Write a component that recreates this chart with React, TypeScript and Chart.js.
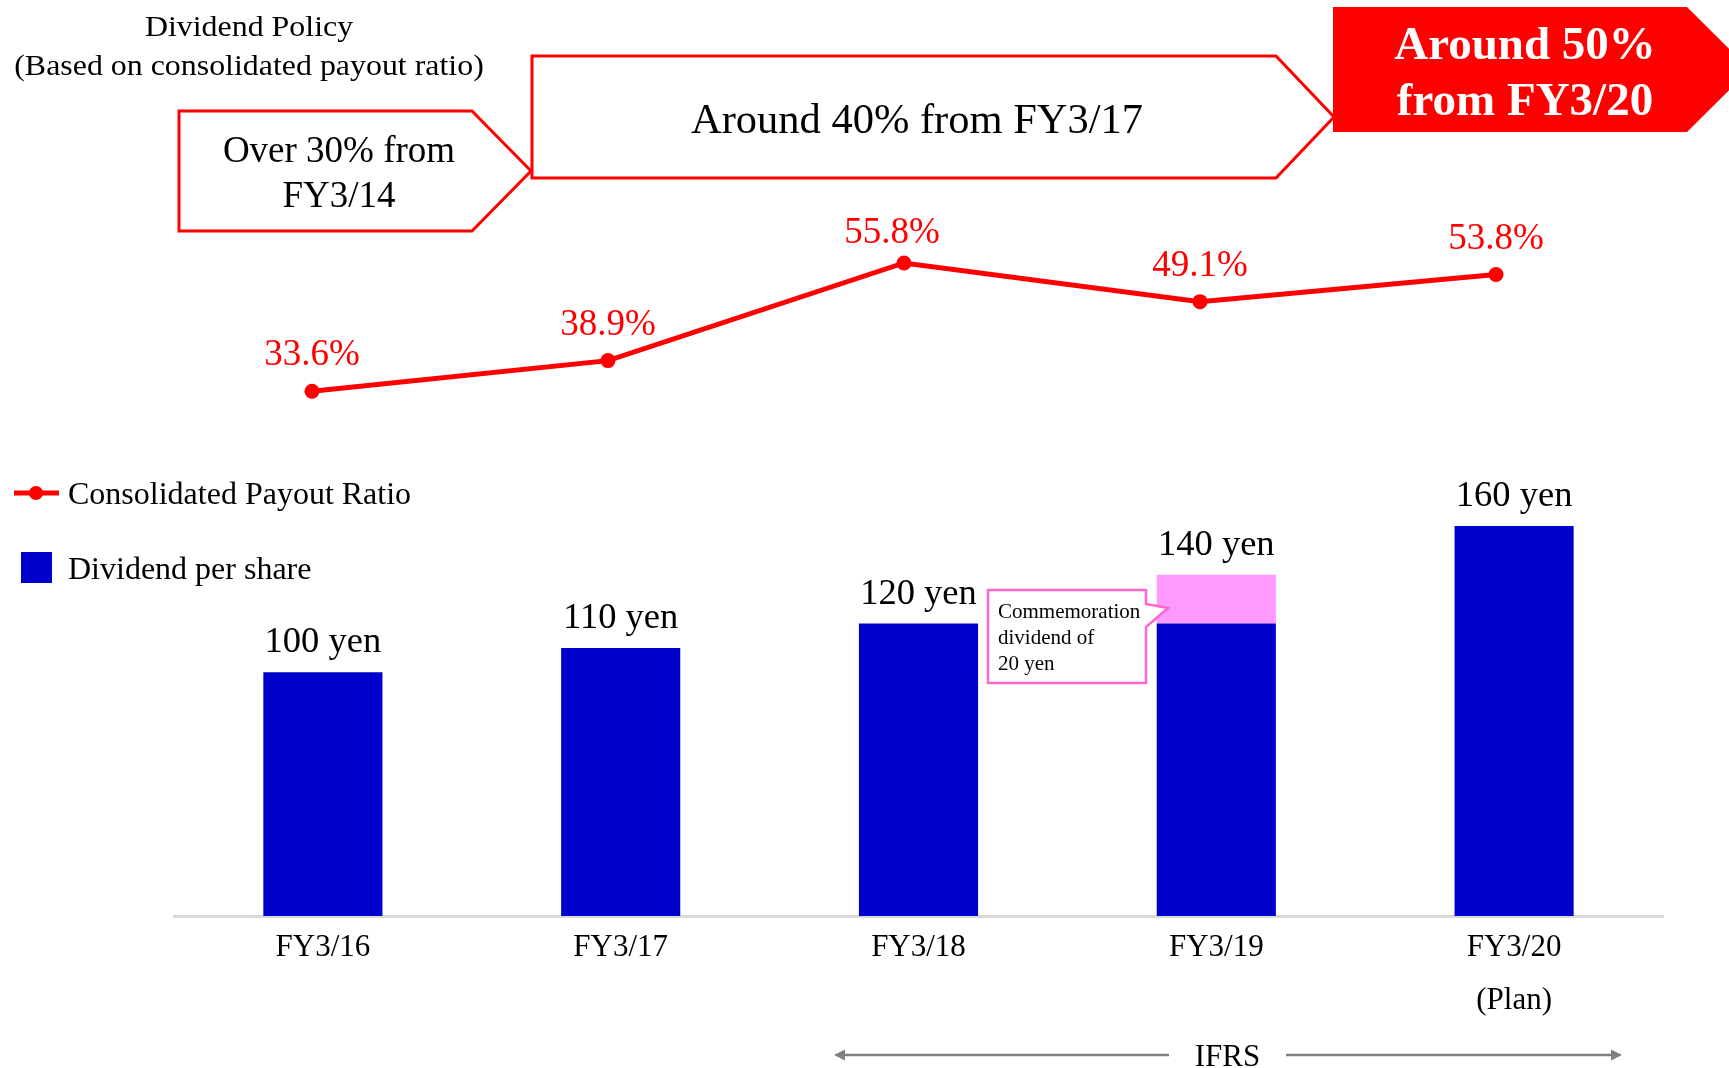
import React, { useEffect, useRef } from "react";
import { Chart, registerables } from "chart.js";

Chart.register(...registerables);

// ---------------- data ----------------
const categories = ["FY3/16", "FY3/17", "FY3/18", "FY3/19", "FY3/20"];
const categorySubLabels = ["", "", "", "", "(Plan)"];
const dividendBase = [100, 110, 120, 120, 160];
const commemorativeDividend = [0, 0, 0, 20, 0];
const payoutRatio = [33.6, 38.9, 55.8, 49.1, 53.8];
const policyStep1 = ["Over 30% from", "FY3/14"];
const policyStep2 = ["Around 40% from FY3/17"];
const policyStep3 = ["Around 50%", "from FY3/20"];
const titleLines = ["Dividend Policy", "(Based on consolidated payout ratio)"];
const calloutLines = ["Commemoration", "dividend of", "20 yen"];
const legendLine = "Consolidated Payout Ratio";
const legendBar = "Dividend per share";
const periodLabel = "IFRS";

// ---------------- styles ----------------
const FONT = '"Liberation Serif", "Times New Roman", serif';
const RED = "#FF0000";
const BLUE = "#0000CC";
const PINK = "#FF99FF";
const PINK_LINE = "#FF66CC";
const GRAY = "#808080";

function txt(
  ctx: CanvasRenderingContext2D,
  s: string,
  x: number,
  y: number,
  size: number,
  color: string,
  opts: { align?: CanvasTextAlign; bold?: boolean; sx?: number } = {}
) {
  ctx.save();
  ctx.translate(x, y);
  ctx.scale(opts.sx || 1, 1);
  ctx.font = `${opts.bold ? "bold " : ""}${size}px ${FONT}`;
  ctx.fillStyle = color;
  ctx.textAlign = opts.align || "left";
  ctx.textBaseline = "alphabetic";
  ctx.fillText(s, 0, 0);
  ctx.restore();
}

function poly(
  ctx: CanvasRenderingContext2D,
  pts: number[][],
  fill: string | null,
  stroke: string | null,
  lw = 3
) {
  ctx.save();
  ctx.beginPath();
  pts.forEach((p, i) => (i === 0 ? ctx.moveTo(p[0], p[1]) : ctx.lineTo(p[0], p[1])));
  ctx.closePath();
  if (fill) {
    ctx.fillStyle = fill;
    ctx.fill();
  }
  if (stroke) {
    ctx.lineJoin = "miter";
    ctx.strokeStyle = stroke;
    ctx.lineWidth = lw;
    ctx.stroke();
  }
  ctx.restore();
}

const ratioLabelShift = [
  [0, 0],
  [0, 0],
  [-12, 6],
  [0, 0],
  [0, 0],
];

const overlayPlugin = {
  id: "overlay",
  afterDatasetsDraw(chart: any) {
    const ctx: CanvasRenderingContext2D = chart.ctx;
    const xs = chart.scales.x;
    const ys = chart.scales.y;
    // bar value labels
    categories.forEach((_c, i) => {
      const total = dividendBase[i] + commemorativeDividend[i];
      const x = xs.getPixelForValue(i);
      const y = ys.getPixelForValue(total);
      txt(ctx, `${total} yen`, x, y - 20, 36.5, "#000", { align: "center" });
    });
    // payout ratio labels
    const meta = chart.getDatasetMeta(0);
    meta.data.forEach((pt: any, i: number) => {
      const sh = ratioLabelShift[i];
      txt(ctx, `${payoutRatio[i].toFixed(1)}%`, pt.x + sh[0], pt.y - 26 + sh[1], 37, RED, {
        align: "center",
      });
    });
  },
  afterDraw(chart: any) {
    const ctx: CanvasRenderingContext2D = chart.ctx;

    // title
    txt(ctx, titleLines[0], 249, 36, 29, "#000", { align: "center", sx: 1.1 });
    txt(ctx, titleLines[1], 249, 75, 29, "#000", { align: "center", sx: 1.1 });

    // policy arrows
    poly(ctx, [[179, 111], [472, 111], [531, 171], [472, 231], [179, 231]], "#fff", RED, 3);
    poly(ctx, [[532, 56], [1276, 56], [1334, 117], [1276, 178], [532, 178]], "#fff", RED, 3);
    poly(ctx, [[1333, 7], [1687, 7], [1750, 69.5], [1687, 132], [1333, 132]], RED, null);

    txt(ctx, policyStep1[0], 339, 162, 37, "#000", { align: "center" });
    txt(ctx, policyStep1[1], 339, 206.5, 37, "#000", { align: "center" });
    txt(ctx, policyStep2[0], 917, 133, 42.5, "#000", { align: "center" });
    txt(ctx, policyStep3[0], 1525, 59, 47, "#fff", { align: "center", bold: true });
    txt(ctx, policyStep3[1], 1525, 115, 47, "#fff", { align: "center", bold: true });

    // legend
    ctx.save();
    ctx.strokeStyle = RED;
    ctx.lineWidth = 5;
    ctx.beginPath();
    ctx.moveTo(14, 493);
    ctx.lineTo(59, 493);
    ctx.stroke();
    ctx.fillStyle = RED;
    ctx.beginPath();
    ctx.arc(36, 493, 7, 0, Math.PI * 2);
    ctx.fill();
    ctx.fillStyle = BLUE;
    ctx.fillRect(21, 552, 31, 31);
    ctx.restore();
    txt(ctx, legendLine, 68, 503.5, 32, "#000");
    txt(ctx, legendBar, 68, 579, 32, "#000");

    // callout
    poly(
      ctx,
      [[988, 590], [1146, 590], [1146, 604], [1168, 608], [1146, 627], [1146, 683], [988, 683]],
      "#fff",
      PINK_LINE,
      2.5
    );
    txt(ctx, calloutLines[0], 998, 618, 21, "#000");
    txt(ctx, calloutLines[1], 998, 644, 21, "#000");
    txt(ctx, calloutLines[2], 998, 670, 21, "#000");

    // IFRS arrow
    ctx.save();
    ctx.strokeStyle = GRAY;
    ctx.fillStyle = GRAY;
    ctx.lineWidth = 2.5;
    ctx.beginPath();
    ctx.moveTo(840, 1055);
    ctx.lineTo(1169, 1055);
    ctx.moveTo(1286, 1055);
    ctx.lineTo(1616, 1055);
    ctx.stroke();
    ctx.beginPath();
    ctx.moveTo(834, 1055);
    ctx.lineTo(845, 1049.5);
    ctx.lineTo(845, 1060.5);
    ctx.closePath();
    ctx.fill();
    ctx.beginPath();
    ctx.moveTo(1622, 1055);
    ctx.lineTo(1611, 1049.5);
    ctx.lineTo(1611, 1060.5);
    ctx.closePath();
    ctx.fill();
    ctx.restore();
    txt(ctx, periodLabel, 1227.5, 1066, 31, "#000", { align: "center" });
  },
};

export default function App() {
  const ref = useRef<HTMLCanvasElement>(null);

  useEffect(() => {
    const canvas = ref.current;
    if (!canvas) return;
    Chart.defaults.font.family = FONT;
    const chart = new Chart(canvas, {
      type: "bar",
      data: {
        labels: categories,
        datasets: [
          {
            type: "line",
            label: legendLine,
            data: payoutRatio.map((v, i) => ({ x: i, y: v })),
            xAxisID: "xLine",
            yAxisID: "yRatio",
            borderColor: RED,
            backgroundColor: RED,
            borderWidth: 5,
            pointRadius: 7.5,
            pointBackgroundColor: RED,
            pointBorderColor: RED,
            pointBorderWidth: 0,
            tension: 0,
            order: 0,
          } as any,
          {
            type: "bar",
            label: legendBar,
            data: dividendBase,
            xAxisID: "x",
            yAxisID: "y",
            backgroundColor: BLUE,
            borderWidth: 0,
            stack: "div",
            grouped: false,
            categoryPercentage: 1,
            barPercentage: 0.4,
            order: 1,
          },
          {
            type: "bar",
            label: "Commemoration dividend",
            data: commemorativeDividend,
            xAxisID: "x",
            yAxisID: "y",
            backgroundColor: PINK,
            borderWidth: 0,
            stack: "div",
            grouped: false,
            categoryPercentage: 1,
            barPercentage: 0.4,
            order: 1,
          },
        ],
      },
      options: {
        responsive: false,
        animation: false,
        devicePixelRatio: 1,
        layout: { padding: { left: 174, right: 66, top: 10, bottom: 0 } },
        plugins: { legend: { display: false }, tooltip: { enabled: false } },
        scales: {
          x: {
            type: "category",
            position: "bottom",
            stacked: true,
            offset: true,
            grid: { display: false, drawTicks: false },
            border: { display: true, color: "#D9D9D9", width: 3 },
            ticks: {
              autoSkip: false,
              maxRotation: 0,
              padding: 5,
              color: "#000",
              font: { family: FONT, size: 31, lineHeight: "53px" },
              callback: (_v: any, i: number) =>
                categorySubLabels[i] ? [categories[i], categorySubLabels[i]] : categories[i],
            },
            afterFit: (scale: any) => {
              scale.height = 152;
            },
          },
          xLine: {
            type: "linear",
            display: false,
            offset: false,
            bounds: "data",
            min: -0.4662,
            max: 4.5642,
          },
          y: {
            type: "linear",
            display: false,
            stacked: true,
            min: 0,
            max: 371.7,
          },
          yRatio: {
            type: "linear",
            display: false,
            min: -57.2,
            max: 99.57,
          },
        },
      } as any,
      plugins: [overlayPlugin],
    });
    return () => chart.destroy();
  }, []);

  return (
    <div
      style={{
        position: "fixed",
        left: 0,
        top: 0,
        width: 1729,
        height: 1068,
        background: "#fff",
        overflow: "hidden",
      }}
    >
      <canvas ref={ref} width={1729} height={1068} style={{ display: "block", width: 1729, height: 1068 }} />
    </div>
  );
}
